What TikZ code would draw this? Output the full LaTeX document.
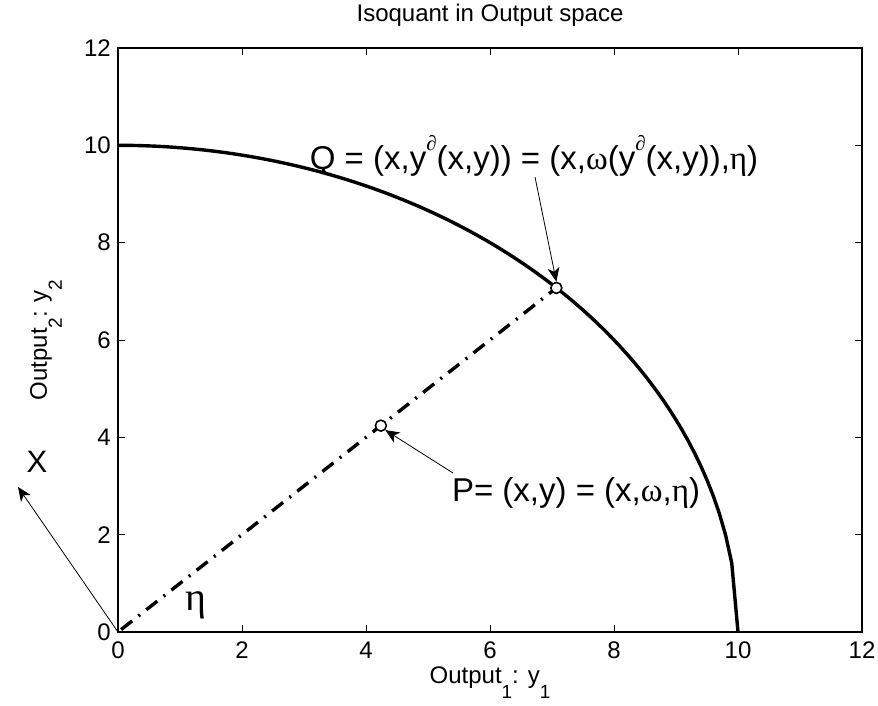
\documentclass[tikz,border=0pt]{standalone}
\usepackage{fontspec}
\setmainfont{Liberation Sans}
\newfontfamily\grk{Liberation Serif}
\usetikzlibrary{arrows.meta}
\newcommand{\sbs}[1]{\raisebox{-15pt}{\fontsize{19}{20}\selectfont #1}}
\newcommand{\sps}[1]{\raisebox{0.55em}{\fontsize{21}{22}\selectfont #1}}
\begin{document}
\begin{tikzpicture}[x=1pt,y=1pt,
  ticklab/.style={font=\fontsize{24}{28}\selectfont, inner sep=0pt},
  biglab/.style={font=\fontsize{33}{36}\selectfont, inner sep=0pt},
  marker/.style={circle, draw, line width=1.6pt, fill=white, minimum size=11pt, inner sep=0pt},
  thinarrow/.style={line width=0.8pt, -{Stealth[length=14pt,width=12pt,inset=4pt]}}]
\useasboundingbox (0,0) rectangle (878,705);
\begin{scope}[shift={(118,73)}, x=62pt, y=48.67pt]
  \draw[line width=1.2pt] (0,0) rectangle (12,12);
  \foreach \v in {0,2,...,12} {
    \draw[line width=0.8pt] (\v,0) -- ++(0,7pt);
    \draw[line width=0.8pt] (\v,12) -- ++(0,-7pt);
    \draw[line width=0.8pt] (0,\v) -- ++(7pt,0);
    \draw[line width=0.8pt] (12,\v) -- ++(-7pt,0);
    \node[ticklab, anchor=north] (xt\v) at ([yshift=-10pt]\v,0) {\v};
    \node[ticklab, anchor=east] (yt\v) at ([xshift=-7pt]0,\v) {\v};
  }
  \coordinate (O) at (0,0);
  \draw[line width=3.4pt, line join=round] plot[domain=0:9.9, samples=100] (\x,{sqrt(100-\x*\x)}) -- (10,0);
  \draw[line width=3.4pt, dash pattern=on 14pt off 8pt on 2pt off 8pt] (0.05,0.05) -- (7.07,7.07);
  \node[marker] (Q) at (7.07,7.07) {};
  \node[marker] (P) at (4.24,4.24) {};
  \node[font=\fontsize{40}{42}\selectfont\grk, inner sep=0pt] (eta) at (1.25,0.55) {η};
\end{scope}
\node[ticklab] (title) at (490,690) {Isoquant in Output space};
\node[ticklab] (xlab) at (490,22) {Output\sbs{1}: y\sbs{1}};
\node[ticklab, rotate=90] (ylab) at (46,365) {Output\sbs{2}: y\sbs{2}};
\node[biglab] (qlab) at (534,549) {Q = (x,y\sps{\grk ∂}(x,y)) = (x,{\grk ω}(y\sps{\grk ∂}(x,y)),{\grk η})};
\node[biglab] (plab) at (576,212) {P= (x,y) = (x,{\grk ω},{\grk η})};
\node[font=\fontsize{31}{34}\selectfont, inner sep=0pt] (xname) at (37,243) {X};
\coordinate (qstart) at (535,528);
\coordinate (pstart) at (453,232);
\coordinate (xtip) at (18,218);
\draw[thinarrow] (qstart) -- (Q.north);
\draw[thinarrow] (pstart) -- (P.south east);
\draw[thinarrow] (O) -- (xtip);
\end{tikzpicture}
\end{document}
